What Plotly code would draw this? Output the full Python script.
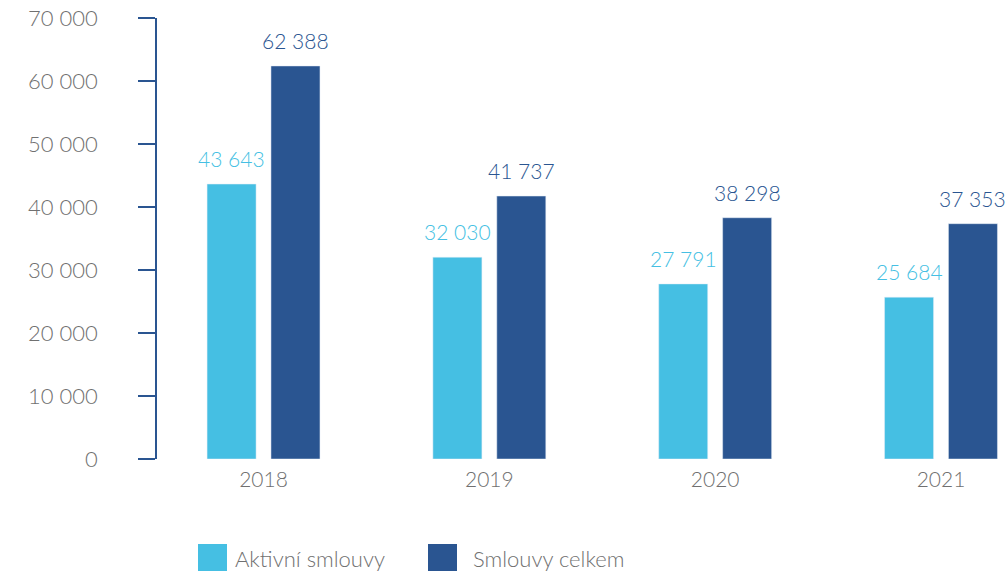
import plotly.graph_objects as go

years = ["2018", "2019", "2020", "2021"]
aktivni = [43643, 32030, 27791, 25684]
celkem = [62388, 41737, 38298, 37353]
series_names = ["Aktivní smlouvy", "Smlouvy celkem"]
y_tickvals = [0, 10000, 20000, 30000, 40000, 50000, 60000, 70000]
y_ticktext = ["0", "10 000", "20 000", "30 000", "40 000", "50 000", "60 000", "70 000"]

LIGHT = "#45bfe3"
DARK = "#2a5591"
GREY = "#707070"
FONT = "Lato"
W = 300

BAR_W = 0.217
OFF_L = -0.250
OFF_D = 0.033

xs = list(range(len(years)))


def fmt(v):
    return f"{v:,}".replace(",", " ")


fig = go.Figure()
fig.add_trace(go.Bar(x=xs, y=aktivni, name=series_names[0], marker_color=LIGHT,
                     width=BAR_W, offset=OFF_L, showlegend=False))
fig.add_trace(go.Bar(x=xs, y=celkem, name=series_names[1], marker_color=DARK,
                     width=BAR_W, offset=OFF_D, showlegend=False))

annotations = []
for vals, off, col in ((aktivni, OFF_L, LIGHT), (celkem, OFF_D, DARK)):
    for i, v in enumerate(vals):
        annotations.append(dict(x=i + off + BAR_W / 2, y=v, xref="x", yref="y",
                                text=fmt(v), showarrow=False, yanchor="bottom",
                                yshift=11, font=dict(family=FONT, size=21, color=col, weight=W)))

# legend drawn as shapes + text (paper coords)
plot_l, plot_r, plot_t, plot_b = 157, 1005, 18, 459


def px_x(p):
    return (p - plot_l) / (plot_r - plot_l)


def px_y(p):
    return (plot_b - p) / (plot_b - plot_t)


shapes = []
legend_items = [(198, 233, LIGHT, series_names[0]), (428, 471, DARK, series_names[1])]
for sx, tx, col, name in legend_items:
    shapes.append(dict(type="rect", xref="paper", yref="paper",
                       x0=px_x(sx), x1=px_x(sx + 29), y0=px_y(544), y1=px_y(573),
                       fillcolor=col, line=dict(width=0)))
    annotations.append(dict(x=px_x(tx), y=px_y(558), xref="paper", yref="paper",
                            text=name, showarrow=False, xanchor="left", yanchor="middle",
                            font=dict(family=FONT, size=22, color=GREY, weight=W)))

fig.update_layout(
    width=1005, height=571,
    margin=dict(l=157, r=0, t=18, b=112),
    plot_bgcolor="white", paper_bgcolor="white",
    font=dict(family=FONT, size=20, color=GREY),
    annotations=annotations, shapes=shapes,
    showlegend=False,
)
fig.update_xaxes(range=[-0.4717, 3.2834], tickvals=xs, ticktext=years,
                 showgrid=False, zeroline=False, showline=False, ticks="",
                 ticklabelstandoff=6, tickfont=dict(family=FONT, size=21, color=GREY, weight=W))
fig.update_yaxes(range=[0, 70000], tickvals=y_tickvals, ticktext=y_ticktext,
                 showgrid=False, zeroline=False, showline=True, linecolor=DARK, linewidth=1.5,
                 ticks="outside", ticklen=17, tickcolor=DARK, tickwidth=1.5,
                 ticklabeloverflow="allow",
                 ticklabelstandoff=36, tickfont=dict(family=FONT, size=22, color=GREY, weight=W))

fig.write_html("out.html", config={"displayModeBar": False},
               post_script="document.body.style.margin='0';document.body.style.overflow='hidden';")
